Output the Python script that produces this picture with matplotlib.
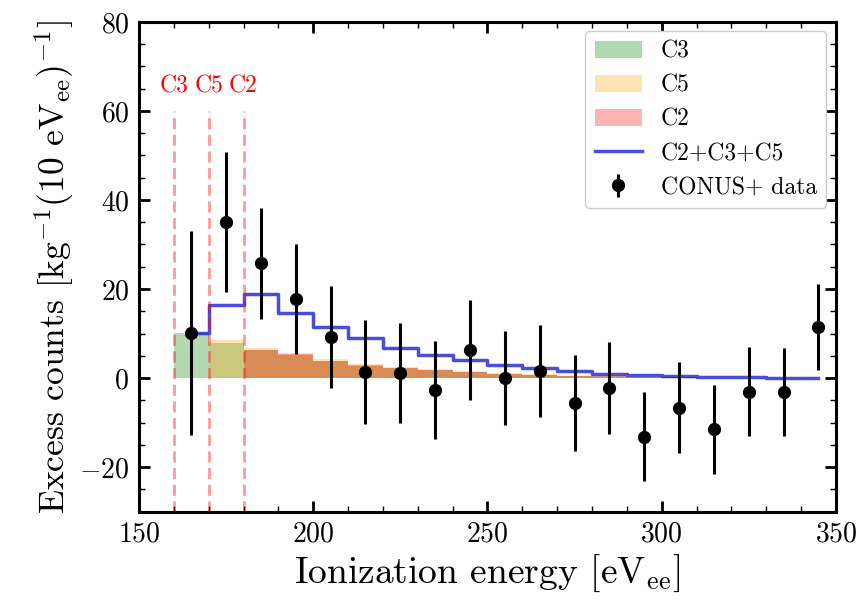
import numpy as np
import matplotlib
matplotlib.use("Agg")
import matplotlib.pyplot as plt
from matplotlib.ticker import MultipleLocator

plt.rcParams['font.family'] = 'cmr10'
plt.rcParams['mathtext.fontset'] = 'cm'
plt.rcParams['axes.formatter.use_mathtext'] = True

# bins of the model histograms
edges = np.arange(160, 351, 10)
centers = np.arange(165, 350, 10)

# model components (overlaid, not stacked)
c3 = [10.1, 7.9, 6.2, 5.2, 3.8, 2.8, 2.2, 1.7, 1.3, 1.0, 0.72, 0.5, 0.34, 0.22, 0.15, 0.1, 0.06, 0.04, 0.02]
c5 = [0.0, 8.5, 6.8, 5.6, 4.2, 3.2, 2.5, 2.0, 1.5, 1.1, 0.8, 0.55, 0.38, 0.25, 0.17, 0.11, 0.07, 0.04, 0.02]
c2 = [0.0, 0.0, 6.3, 5.3, 3.9, 2.9, 2.3, 1.8, 1.4, 1.0, 0.75, 0.5, 0.35, 0.22, 0.15, 0.1, 0.06, 0.04, 0.02]
total = [10.1, 16.4, 18.9, 14.7, 11.5, 8.9, 6.8, 5.2, 4.0, 2.9, 2.2, 1.5, 0.9, 0.6, 0.4, 0.25, 0.15, 0.1, 0.05]

# CONUS+ data
data_y = [10.1, 35.1, 25.8, 17.8, 9.2, 1.4, 1.1, -2.7, 6.3, 0.0, 1.6, -5.6, -2.2, -13.2, -6.7, -11.5, -3.1, -3.2, 11.5]
data_err = [23.0, 15.7, 12.5, 12.3, 11.5, 11.7, 11.3, 11.0, 11.2, 10.5, 10.4, 10.8, 10.4, 10.0, 10.2, 10.0, 10.0, 9.9, 9.6]

thresholds = [160, 170, 180]
threshold_names = ['C3', 'C5', 'C2']

fig = plt.figure(figsize=(8.6, 6.09), dpi=100)
ax = fig.add_axes([0.1616, 0.160, 0.8104, 0.804])

ax.stairs(c3, edges, fill=True, color='green', alpha=0.3, lw=0, label='C3')
ax.stairs(c5, edges, fill=True, color='orange', alpha=0.3, lw=0, label='C5')
ax.stairs(c2, edges, fill=True, color='red', alpha=0.3, lw=0, label='C2')
ax.step(centers, total, where='mid', color='mediumblue', alpha=0.7, lw=2.5, label='C2+C3+C5')

for x, name in zip(thresholds, threshold_names):
    ax.vlines(x, -30, 60, colors='red', linestyles=(0, (4, 2)), alpha=0.4, lw=2)
    ax.text(x, 65.5, name, color='red', fontsize=17, ha='center', va='center')

ax.errorbar(centers, data_y, yerr=data_err, fmt='o', color='black', ms=8.5,
            elinewidth=2.2, capsize=0, label='CONUS+ data')

ax.set_xlim(150, 350)
ax.set_ylim(-30, 80)
ax.xaxis.set_major_locator(MultipleLocator(50))
ax.xaxis.set_minor_locator(MultipleLocator(10))
ax.yaxis.set_major_locator(MultipleLocator(20))
ax.yaxis.set_minor_locator(MultipleLocator(5))
ax.tick_params(which='both', direction='in', top=True, right=True, labelsize=20)
ax.tick_params(which='major', length=8, width=2, pad=7)
ax.tick_params(which='minor', length=4, width=1)
for s in ax.spines.values():
    s.set_linewidth(2.2)

ax.set_xlabel(r'Ionization energy [eV$_{\mathrm{ee}}$]', fontsize=27, labelpad=4)
ax.set_ylabel(r'Excess counts [kg$^{-1}$(10 eV$_{\mathrm{ee}}$)$^{-1}$]', fontsize=25.5, labelpad=2)

ax.legend(loc='upper right', fontsize=17, framealpha=1, borderaxespad=0.4)

fig.savefig('out.png', dpi=100)
